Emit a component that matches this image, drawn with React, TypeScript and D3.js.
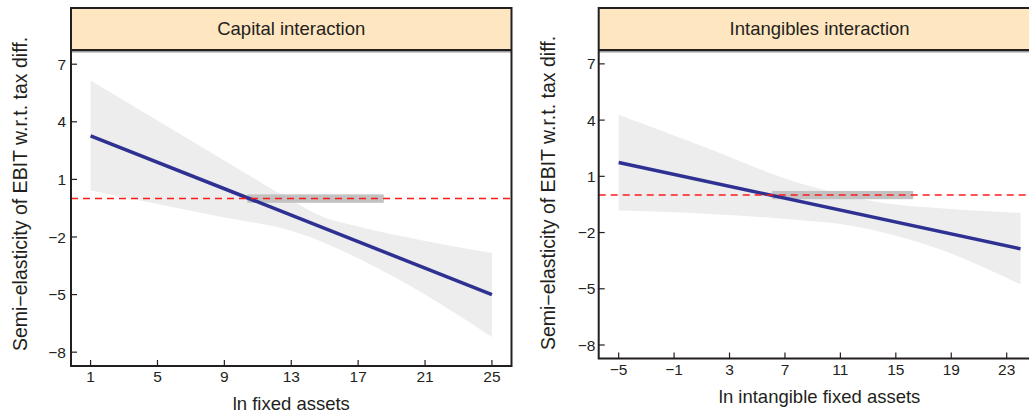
import React from 'react'
import * as d3 from 'd3'

// values
const yTicks = [-8, -5, -2, 1, 4, 7]

const capitalTicks = [1, 5, 9, 13, 17, 21, 25]
const capitalLineX = [1, 25]
const capitalLineY = [3.27, -5.0]
const capitalBandX = [1, 5, 9, 13, 15, 17, 21, 25]
const capitalBandHi = [6.15, 4.07, 1.99, -0.08, -0.99, -1.46, -2.21, -2.84]
const capitalBandLo = [0.42, -0.28, -0.98, -1.68, -2.31, -3.11, -5.0, -7.22]
const capitalRange = [10.37, 18.53]

const intangTicks = [-5, -1, 3, 7, 11, 15, 19, 23]
const intangLineX = [-5, 24]
const intangLineY = [1.74, -2.87]
const intangBandX = [-5, 1, 8, 11, 14, 18, 24]
const intangBandHi = [4.29, 2.62, 0.65, 0.06, -0.41, -0.69, -0.95]
const intangBandLo = [-0.83, -0.98, -1.33, -1.55, -1.99, -2.85, -4.77]
const intangRange = [6.08, 16.26]

const rangeHalf = 0.22
const FONT = '"Liberation Sans", Arial, Helvetica, sans-serif'

type PanelProps = {
  title: string
  xLabel: string
  left: number
  right: number
  bottom: number
  xDomain: [number, number]
  xTicks: number[]
  lineX: number[]
  lineY: number[]
  bandX: number[]
  bandHi: number[]
  bandLo: number[]
  range: number[]
  yLabelX: number
  yLabelY: number
  tickEnd: number
}

function Panel (p: PanelProps) {
  const top = 8
  const stripBottom = 50
  const x = d3.scaleLinear().domain(p.xDomain).range([p.left, p.right])
  const y = d3.scaleLinear().domain([-8.72, 7.74]).range([p.bottom, stripBottom])
  const cx = (p.left + p.right) / 2

  const band = d3.area<number>()
    .x((d, i) => x(p.bandX[i]))
    .y0((d, i) => y(p.bandLo[i]))
    .y1((d, i) => y(p.bandHi[i]))
    .curve(d3.curveMonotoneX)
  const line = d3.line<number>()
    .x((d, i) => x(p.lineX[i]))
    .y(d => d)

  return (
    <g>
      <rect x={p.left} y={top} width={p.right - p.left} height={stripBottom - top} fill="#fee6c0" />
      <text x={cx} y={35} textAnchor="middle" fontSize={18.5} fill="#231f20">{p.title}</text>
      <path d={band(p.bandX) || ''} fill="#ededed" />
      <rect x={x(p.range[0])} y={y(rangeHalf)} width={x(p.range[1]) - x(p.range[0])}
        height={y(-rangeHalf) - y(rangeHalf)} fill="#c2c2c2" />
      <path d={line(p.lineY.map(v => y(v))) || ''} fill="none" stroke="#2e3192" strokeWidth={3.5} />
      <line x1={p.left} x2={p.right} y1={y(0)} y2={y(0)} stroke="#ff1a1a" strokeWidth={1.5} strokeDasharray="7,5" />
      <line x1={p.left} x2={p.right} y1={stripBottom + 1.8} y2={stripBottom + 1.8} stroke="#9a9a9a" strokeWidth={1.6} />
      <line x1={p.left} x2={p.right} y1={stripBottom} y2={stripBottom} stroke="#231f20" strokeWidth={1.8} />
      <rect x={p.left} y={top} width={p.right - p.left} height={p.bottom - top} fill="none" stroke="#231f20" strokeWidth={2} />
      {yTicks.map(t => (
        <g key={'y' + t}>
          <line x1={p.left} x2={p.left + 6} y1={y(t)} y2={y(t)} stroke="#231f20" strokeWidth={1.2} />
          <text x={p.tickEnd} y={y(t)} dy="0.36em" textAnchor="end" fontSize={15.5} fill="#231f20">
            {d3.format('')(t)}
          </text>
        </g>
      ))}
      {p.xTicks.map(t => (
        <g key={'x' + t}>
          <line x1={x(t)} x2={x(t)} y1={p.bottom} y2={p.bottom - 6} stroke="#231f20" strokeWidth={1.2} />
          <text x={x(t)} y={p.bottom + 16} textAnchor="middle" fontSize={15.5} fill="#231f20">
            {d3.format('')(t)}
          </text>
        </g>
      ))}
      <text x={cx} y={p.bottom + 44} textAnchor="middle" fontSize={18.5} fill="#231f20">{p.xLabel}</text>
      <text transform={`translate(${p.yLabelX},${p.yLabelY}) rotate(-90)`}
        textAnchor="middle" fontSize={19.5} fill="#231f20">
        Semi−elasticity of EBIT w.r.t. tax diff.
      </text>
    </g>
  )
}

export default function App () {
  return (
    <svg width={1029} height={416} style={{ position: 'absolute', left: 0, top: 0, fontFamily: FONT }}>
      <rect width={1029} height={416} fill="#fff" />
      <Panel title="Capital interaction" xLabel="ln fixed assets"
        left={71} right={511.5} bottom={366} xDomain={[-0.17, 26.17]} xTicks={capitalTicks}
        lineX={capitalLineX} lineY={capitalLineY} bandX={capitalBandX} bandHi={capitalBandHi}
        bandLo={capitalBandLo} range={capitalRange} yLabelX={27} yLabelY={194} tickEnd={66} />
      <Panel title="Intangibles interaction" xLabel="ln intangible fixed assets"
        left={598.7} right={1040.5} bottom={358.5} xDomain={[-6.44, 25.44]} xTicks={intangTicks}
        lineX={intangLineX} lineY={intangLineY} bandX={intangBandX} bandHi={intangBandHi}
        bandLo={intangBandLo} range={intangRange} yLabelX={555} yLabelY={193} tickEnd={595.5} />
    </svg>
  )
}
